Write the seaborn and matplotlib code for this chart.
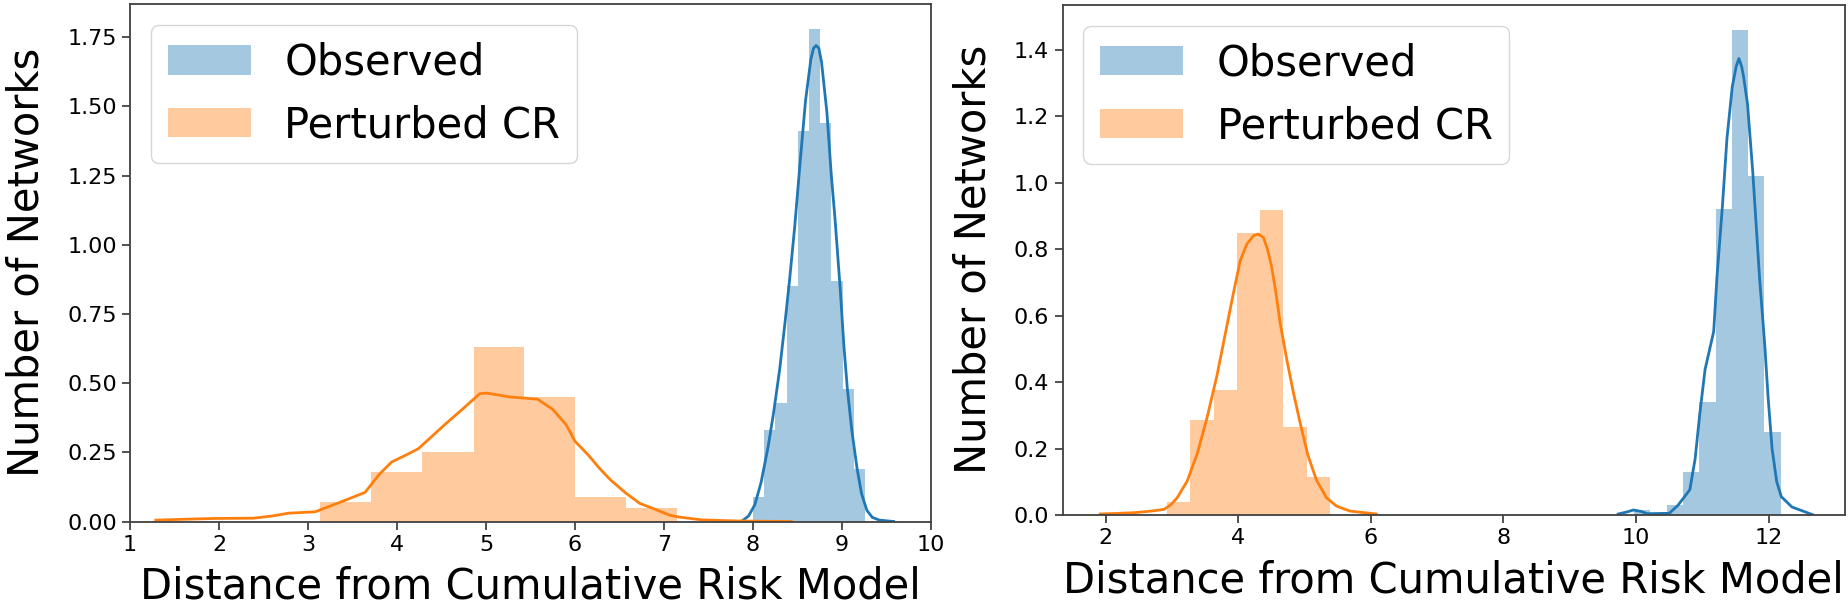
import matplotlib
matplotlib.use("Agg")
import matplotlib.pyplot as plt
from matplotlib.patches import Patch
import numpy as np
import pandas as pd
import seaborn as sns

# ---------------- data ----------------
# Left panel
obs_edges_L = [8.00, 8.126, 8.252, 8.378, 8.504, 8.63, 8.756, 8.882, 9.008, 9.134, 9.26]
obs_heights_L = [0.09, 0.33, 0.43, 0.85, 1.41, 1.78, 1.44, 0.87, 0.48, 0.19]
pert_edges_L = [3.14, 3.71, 4.28, 4.86, 5.43, 6.00, 6.57, 7.15]
pert_heights_L = [0.07, 0.18, 0.25, 0.63, 0.45, 0.09, 0.05]

obs_kde_x_L = [7.89, 7.95, 8.02, 8.09, 8.17, 8.23, 8.30, 8.36, 8.41, 8.47, 8.53, 8.59, 8.65,
               8.68, 8.71, 8.74, 8.77, 8.83, 8.88, 8.92, 8.98, 9.02, 9.06, 9.11, 9.17, 9.22,
               9.28, 9.34, 9.42, 9.58]
obs_kde_y_L = [0.005, 0.02, 0.06, 0.14, 0.27, 0.39, 0.55, 0.72, 0.87, 1.07, 1.30, 1.52, 1.67,
               1.71, 1.72, 1.71, 1.66, 1.48, 1.25, 1.10, 0.84, 0.64, 0.48, 0.33, 0.19, 0.10,
               0.04, 0.015, 0.005, 0.0]
pert_kde_x_L = [1.29, 1.6, 1.96, 2.39, 2.6, 2.78, 3.08, 3.34, 3.64, 3.80, 3.94, 4.10, 4.24,
                4.54, 4.75, 4.93, 5.01, 5.27, 5.58, 5.75, 5.90, 6.0, 6.15, 6.27, 6.40, 6.57,
                6.73, 6.87, 7.07, 7.17, 7.42, 7.8, 8.1, 8.43]
pert_kde_y_L = [0.005, 0.008, 0.011, 0.012, 0.02, 0.030, 0.035, 0.067, 0.105, 0.17, 0.215,
                0.24, 0.263, 0.351, 0.41, 0.462, 0.464, 0.45, 0.442, 0.405, 0.35, 0.29, 0.24,
                0.194, 0.15, 0.103, 0.065, 0.048, 0.022, 0.016, 0.006, 0.002, 0.001, 0.0]

# Right panel
obs_edges_R = [9.968, 10.214, 10.46, 10.706, 10.952, 11.198, 11.444, 11.69, 11.936, 12.182]
obs_heights_R = [0.015, 0.0, 0.03, 0.13, 0.34, 0.92, 1.46, 1.02, 0.25]
pert_edges_R = [2.92, 3.27, 3.63, 3.98, 4.33, 4.68, 5.03, 5.38]
pert_heights_R = [0.038, 0.285, 0.375, 0.847, 0.916, 0.265, 0.115]

obs_kde_x_R = [9.73, 9.86, 9.96, 10.07, 10.17, 10.5, 10.63, 10.73, 10.81, 10.89, 10.96, 11.04,
               11.17, 11.22, 11.30, 11.37, 11.45, 11.51, 11.55, 11.59, 11.62, 11.68, 11.76,
               11.86, 11.94, 11.99, 12.05, 12.12, 12.19, 12.35, 12.5, 12.66]
obs_kde_y_R = [0.003, 0.009, 0.015, 0.011, 0.004, 0.005, 0.029, 0.055, 0.076, 0.169, 0.304,
               0.438, 0.552, 0.718, 0.925, 1.133, 1.288, 1.35, 1.373, 1.35, 1.319, 1.236,
               1.029, 0.718, 0.511, 0.355, 0.2, 0.10, 0.055, 0.024, 0.013, 0.001]
pert_kde_x_R = [1.92, 2.2, 2.43, 2.7, 2.88, 2.98, 3.08, 3.23, 3.38, 3.53, 3.68, 3.83, 3.93,
                4.03, 4.13, 4.23, 4.30, 4.38, 4.44, 4.50, 4.56, 4.63, 4.73, 4.83, 4.93, 5.05,
                5.18, 5.33, 5.48, 5.68, 6.08]
pert_kde_y_R = [0.003, 0.005, 0.007, 0.012, 0.017, 0.03, 0.052, 0.102, 0.183, 0.293, 0.42,
                0.57, 0.67, 0.765, 0.815, 0.84, 0.845, 0.835, 0.80, 0.75, 0.68, 0.58, 0.47,
                0.37, 0.28, 0.18, 0.105, 0.052, 0.027, 0.012, 0.003]

labels = ["Observed", "Perturbed CR"]
xlabel = "Distance from Cumulative Risk Model"
ylabel = "Number of Networks"

BLUE = "#1f77b4"
ORANGE = "#ff7f0e"

plt.rcParams['font.family'] = ['DejaVu Sans']

fig = plt.figure(figsize=(18.48, 6.08), dpi=100)
axL = fig.add_axes([130 / 1848, (608 - 521.5) / 608, 801 / 1848, 517.5 / 608])
axR = fig.add_axes([1062.5 / 1848, (608 - 515) / 608, 782.5 / 1848, 510.3 / 608])


def draw_hist(ax, edges, heights, color):
    edges = [float(e) for e in edges]
    centers = [(a + b) / 2 for a, b in zip(edges[:-1], edges[1:])]
    df = pd.DataFrame({"x": centers, "w": [float(h) for h in heights]})
    sns.histplot(data=df, x="x", weights="w", bins=edges, stat="count",
                 color=color, alpha=0.4, linewidth=0, edgecolor="none", ax=ax)


def draw_kde(ax, xs, ys, color):
    df = pd.DataFrame({"x": xs, "y": ys})
    sns.lineplot(data=df, x="x", y="y", color=color, linewidth=2.0, ax=ax)


for ax, (oe, oh, okx, oky, pe, ph, pkx, pky) in [
    (axL, (obs_edges_L, obs_heights_L, obs_kde_x_L, obs_kde_y_L,
           pert_edges_L, pert_heights_L, pert_kde_x_L, pert_kde_y_L)),
    (axR, (obs_edges_R, obs_heights_R, obs_kde_x_R, obs_kde_y_R,
           pert_edges_R, pert_heights_R, pert_kde_x_R, pert_kde_y_R)),
]:
    draw_hist(ax, oe, oh, BLUE)
    draw_kde(ax, okx, oky, BLUE)
    draw_hist(ax, pe, ph, ORANGE)
    draw_kde(ax, pkx, pky, ORANGE)

    handles = [Patch(facecolor=BLUE, alpha=0.4, edgecolor="none"),
               Patch(facecolor=ORANGE, alpha=0.4, edgecolor="none")]
    ax.legend(handles, labels, loc="upper left", fontsize=30)
    ax.set_xlabel(xlabel, fontsize=30, labelpad=8)
    ax.set_ylabel(ylabel, fontsize=30, labelpad=14)
    ax.tick_params(axis="both", labelsize=16, length=6, width=1.2, color="0.2")
    for sp in ax.spines.values():
        sp.set_linewidth(1.3)
        sp.set_color("0.25")

axL.set_xlim(1, 10)
axL.set_ylim(0, 1.87)
axL.set_xticks(range(1, 11))
axL.set_yticks([0, 0.25, 0.5, 0.75, 1.0, 1.25, 1.5, 1.75])
axL.yaxis.set_major_formatter(matplotlib.ticker.FormatStrFormatter("%.2f"))

axR.set_xlim(1.35, 13.15)
axR.set_ylim(0, 1.535)
axR.set_xticks([2, 4, 6, 8, 10, 12])
axR.set_yticks([0, 0.2, 0.4, 0.6, 0.8, 1.0, 1.2, 1.4])
axR.yaxis.set_major_formatter(matplotlib.ticker.FormatStrFormatter("%.1f"))

fig.savefig("out.png", dpi=100)
